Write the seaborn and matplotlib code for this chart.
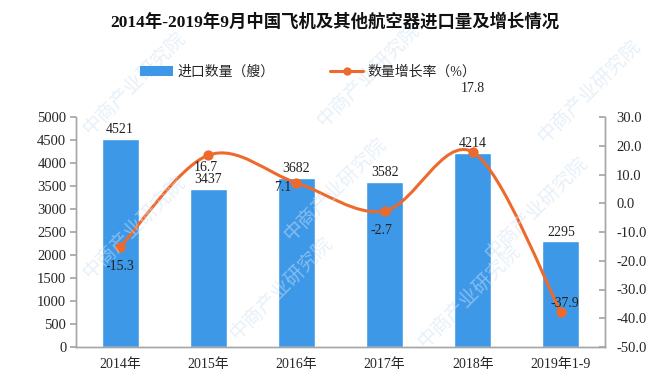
import matplotlib
matplotlib.use("Agg")
import matplotlib.pyplot as plt
from matplotlib.path import Path
from matplotlib.patches import PathPatch
from matplotlib.lines import Line2D
from matplotlib.patches import Patch
import seaborn as sns
import pandas as pd
import numpy as np

# --- data ---
years = ["2014年", "2015年", "2016年", "2017年", "2018年", "2019年1-9"]
import_qty = [4521, 3437, 3682, 3582, 4214, 2295]
growth = [-15.3, 16.7, 7.1, -2.7, 17.8, -37.9]

title = "2014年-2019年9月中国飞机及其他航空器进口量及增长情况"
bar_name = "进口数量（艘）"
line_name = "数量增长率（%）"

BLUE = "#3d98e8"
ORANGE = "#ee6a2c"
AXIS = "#a6a6a6"

sns.set_theme(style="white")
plt.rcParams["font.family"] = ["Liberation Serif", "Noto Sans CJK SC"]

df = pd.DataFrame({"year": years, "qty": import_qty, "growth": growth})

fig = plt.figure(figsize=(6.7, 3.8), dpi=100)
ax = fig.add_axes([76 / 670, 1 - 347 / 380, (605 - 76) / 670, 230 / 380])

sns.barplot(data=df, x="year", y="qty", color=BLUE, saturation=1, width=0.42, ax=ax)
ax.set_xlim(-0.5, len(years) - 0.5)
ax.set_ylim(0, 5000)
ax.set_yticks(np.arange(0, 5001, 500))
ax.set_xlabel("")
ax.set_ylabel("")
for lbl, bar in zip(import_qty, ax.patches):
    ax.annotate(str(lbl), (bar.get_x() + bar.get_width() / 2, bar.get_height()),
                xytext=(0, 2), textcoords="offset points", ha="center", va="bottom",
                fontsize=10, color="#222222")

# x ticks: labels at centers, tick marks at boundaries
ax.set_xticks(range(len(years)))
ax.set_xticklabels(years, fontsize=10)
ax.set_xticks(np.arange(-0.5, len(years), 1), minor=True)
ax.tick_params(axis="x", which="major", length=0, pad=8)
ax.tick_params(axis="x", which="minor", length=4, color=AXIS, direction="out")
ax.tick_params(axis="y", length=4, color=AXIS, direction="out", labelsize=10.5, pad=3)
ax.tick_params(axis="y", left=True)

# right axis: growth rate
ax2 = ax.twinx()
ax2.set_ylim(-50, 30)
ax2.set_yticks(np.arange(-50, 31, 10))
ax2.set_yticklabels([f"{v:.1f}" for v in np.arange(-50, 31, 10)])
ax2.tick_params(axis="y", length=4, color=AXIS, direction="in", labelsize=10.5, pad=8)
ax2.tick_params(axis="y", right=True)

for a in (ax, ax2):
    a.spines["top"].set_visible(False)
    for s in ("left", "right", "bottom"):
        a.spines[s].set_color(AXIS)
        a.spines[s].set_linewidth(1.0)

# smooth curve through the growth points (Catmull-Rom -> cubic Bezier)
xs = np.arange(len(growth), dtype=float)
ys = np.array(growth, dtype=float)
pts = np.column_stack([xs, ys])
verts = [pts[0]]
codes = [Path.MOVETO]
n = len(pts)
for i in range(n - 1):
    p0 = pts[max(i - 1, 0)]
    p1 = pts[i]
    p2 = pts[i + 1]
    p3 = pts[min(i + 2, n - 1)]
    c1 = p1 + (p2 - p0) / 6.0
    c2 = p2 - (p3 - p1) / 6.0
    verts += [c1, c2, p2]
    codes += [Path.CURVE4] * 3
ax2.add_patch(PathPatch(Path(verts, codes), facecolor="none", edgecolor=ORANGE,
                        lw=2.2, capstyle="round", zorder=3))
sns.scatterplot(data=df.assign(pos=xs), x="pos", y="growth", color=ORANGE, s=55,
                edgecolor=ORANGE, linewidth=0, zorder=4, ax=ax2, legend=False)
ax2.set_xlim(-0.5, len(years) - 0.5)
ax2.set_xlabel("")
ax2.set_ylabel("")

# growth labels (offsets in points)
offsets = [(0, -14), (-2, -9), (-10, -3), (-2, -14), (0, 46), (3, 6)]
for x, v, (dx, dy) in zip(xs, growth, offsets):
    ax2.annotate(f"{v:.1f}", (x, v), xytext=(dx, dy), textcoords="offset points",
                 ha="center", va="center", fontsize=10, color="#222222", zorder=5)

# title and legend
fig.text(0.5, 1 - 22 / 380, title, ha="center", va="center", fontsize=12.5,
         fontweight="bold", color="#111111")
handles = [Patch(facecolor=BLUE, edgecolor="none"),
           Line2D([0], [0], color=ORANGE, lw=2.2, marker="o", markersize=5)]
fig.legend(handles, [bar_name, line_name], loc="center", bbox_to_anchor=(0.46, 1 - 72 / 380),
           ncol=2, frameon=False, fontsize=10, handlelength=2.4, handleheight=0.7,
           columnspacing=4.0, handletextpad=0.3)

# faint watermark
wm = "中商产业研究院"
for (wx, wy) in [(0.2, 0.78), (0.55, 0.8), (0.88, 0.76), (0.2, 0.4), (0.5, 0.5),
                 (0.8, 0.45), (0.42, 0.24), (0.7, 0.22)]:
    fig.text(wx, wy, wm, rotation=45, fontsize=14, color="#cfe2f3", alpha=0.5,
             ha="center", va="center", zorder=0)

fig.savefig("out.png", dpi=100)
